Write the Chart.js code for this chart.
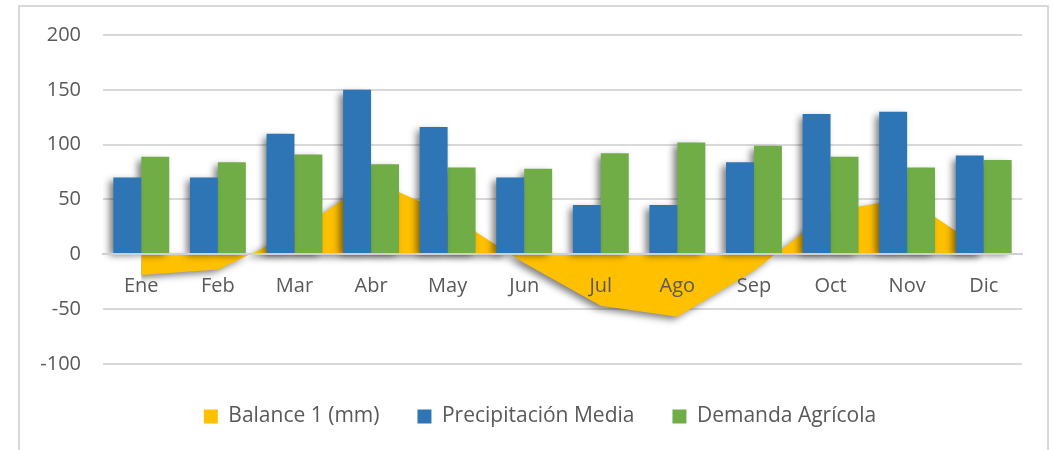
<!DOCTYPE html>
<html>
<head>
<meta charset="utf-8">
<script src="https://cdn.jsdelivr.net/npm/chart.js@4/dist/chart.umd.min.js"></script>
<style>
  html, body { margin: 0; padding: 0; background: #fff; overflow: hidden; }
  #wrap { position: relative; width: 1052px; height: 450px; }
  #frame { position: absolute; left: 18px; top: 5px; width: 1031px; height: 470px; border: 2px solid #D9D9D9; box-sizing: border-box; }
  canvas { position: absolute; left: 0; top: 0; }
</style>
</head>
<body>
<div id="wrap">
  <div id="frame"></div>
  <canvas id="c" width="1052" height="450"></canvas>
</div>
<script>
const categories = ['Ene','Feb','Mar','Abr','May','Jun','Jul','Ago','Sep','Oct','Nov','Dic'];
const balance = [-19, -14, 19, 68, 37, -8, -47, -57, -15, 39, 51, 4];
const precipitacion = [70, 70, 110, 150, 116, 70, 45, 45, 84, 128, 130, 90];
const demanda = [89, 84, 91, 82, 79, 78, 92, 102, 99, 89, 79, 86];
const yTicks = { min: -100, max: 200, step: 50 };

const shadowPlugin = {
  id: 'shadow',
  beforeDatasetsDraw(chart) {
    const ctx = chart.ctx;
    ctx.save();
    ctx.shadowColor = 'rgba(0,0,0,0.5)';
    ctx.shadowBlur = 7;
    ctx.shadowOffsetX = -4;
    ctx.shadowOffsetY = 3;
  },
  afterDatasetsDraw(chart) {
    chart.ctx.restore();
  }
};

const legendShift = {
  id: 'legendShift',
  afterLayout(chart) {
    if (chart.legend) {
      chart.legend.left += 29;
      chart.legend.right += 29;
    }
  }
};

const font = { family: '"Open Sans", "DejaVu Sans", sans-serif', size: 20 };
const legendFont = { family: '"Open Sans", "DejaVu Sans", sans-serif', size: 21 };

new Chart(document.getElementById('c'), {
  data: {
    labels: categories,
    datasets: [
      {
        type: 'line',
        label: 'Balance 1 (mm)',
        data: balance,
        fill: 'origin',
        backgroundColor: '#FFC000',
        borderColor: '#FFC000',
        borderWidth: 0,
        pointRadius: 0,
        tension: 0,
        order: 3
      },
      {
        type: 'bar',
        label: 'Precipitación Media',
        data: precipitacion,
        backgroundColor: '#2E75B6',
        categoryPercentage: 0.73,
        barPercentage: 1.0,
        order: 1
      },
      {
        type: 'bar',
        label: 'Demanda Agrícola',
        data: demanda,
        backgroundColor: '#70AD47',
        categoryPercentage: 0.73,
        barPercentage: 1.0,
        order: 2
      }
    ]
  },
  options: {
    responsive: false,
    animation: false,
    layout: { padding: { left: 0, right: 30, top: 35, bottom: 13 } },
    plugins: {
      legend: {
        position: 'bottom',
        title: { display: true, text: ' ', font: { size: 1 }, padding: { top: 0, bottom: 3 } },
        labels: {
          font: legendFont,
          color: '#595959',
          boxWidth: 14,
          boxHeight: 14,
          padding: 38,
          generateLabels(chart) {
            return chart.data.datasets.map((ds, i) => ({
              text: ds.label,
              fillStyle: ds.backgroundColor,
              strokeStyle: ds.backgroundColor,
              lineWidth: 0,
              hidden: false,
              datasetIndex: i,
              fontColor: '#595959'
            }));
          }
        }
      },
      tooltip: { enabled: false }
    },
    scales: {
      x: {
        position: { y: 0 },
        grid: { display: false, drawTicks: false },
        border: { display: true, color: '#D0D0D0', width: 2, z: 1 },
        ticks: { font: font, color: '#595959', padding: 20, z: 1 }
      },
      y: {
        min: yTicks.min,
        max: yTicks.max,
        afterFit(scale) { scale.width = 103; },
        grid: { color: '#D9D9D9', lineWidth: 2, drawTicks: false },
        border: { display: false },
        ticks: { stepSize: yTicks.step, font: font, color: '#595959', padding: 22 }
      }
    }
  },
  plugins: [shadowPlugin, legendShift]
});
</script>
</body>
</html>
